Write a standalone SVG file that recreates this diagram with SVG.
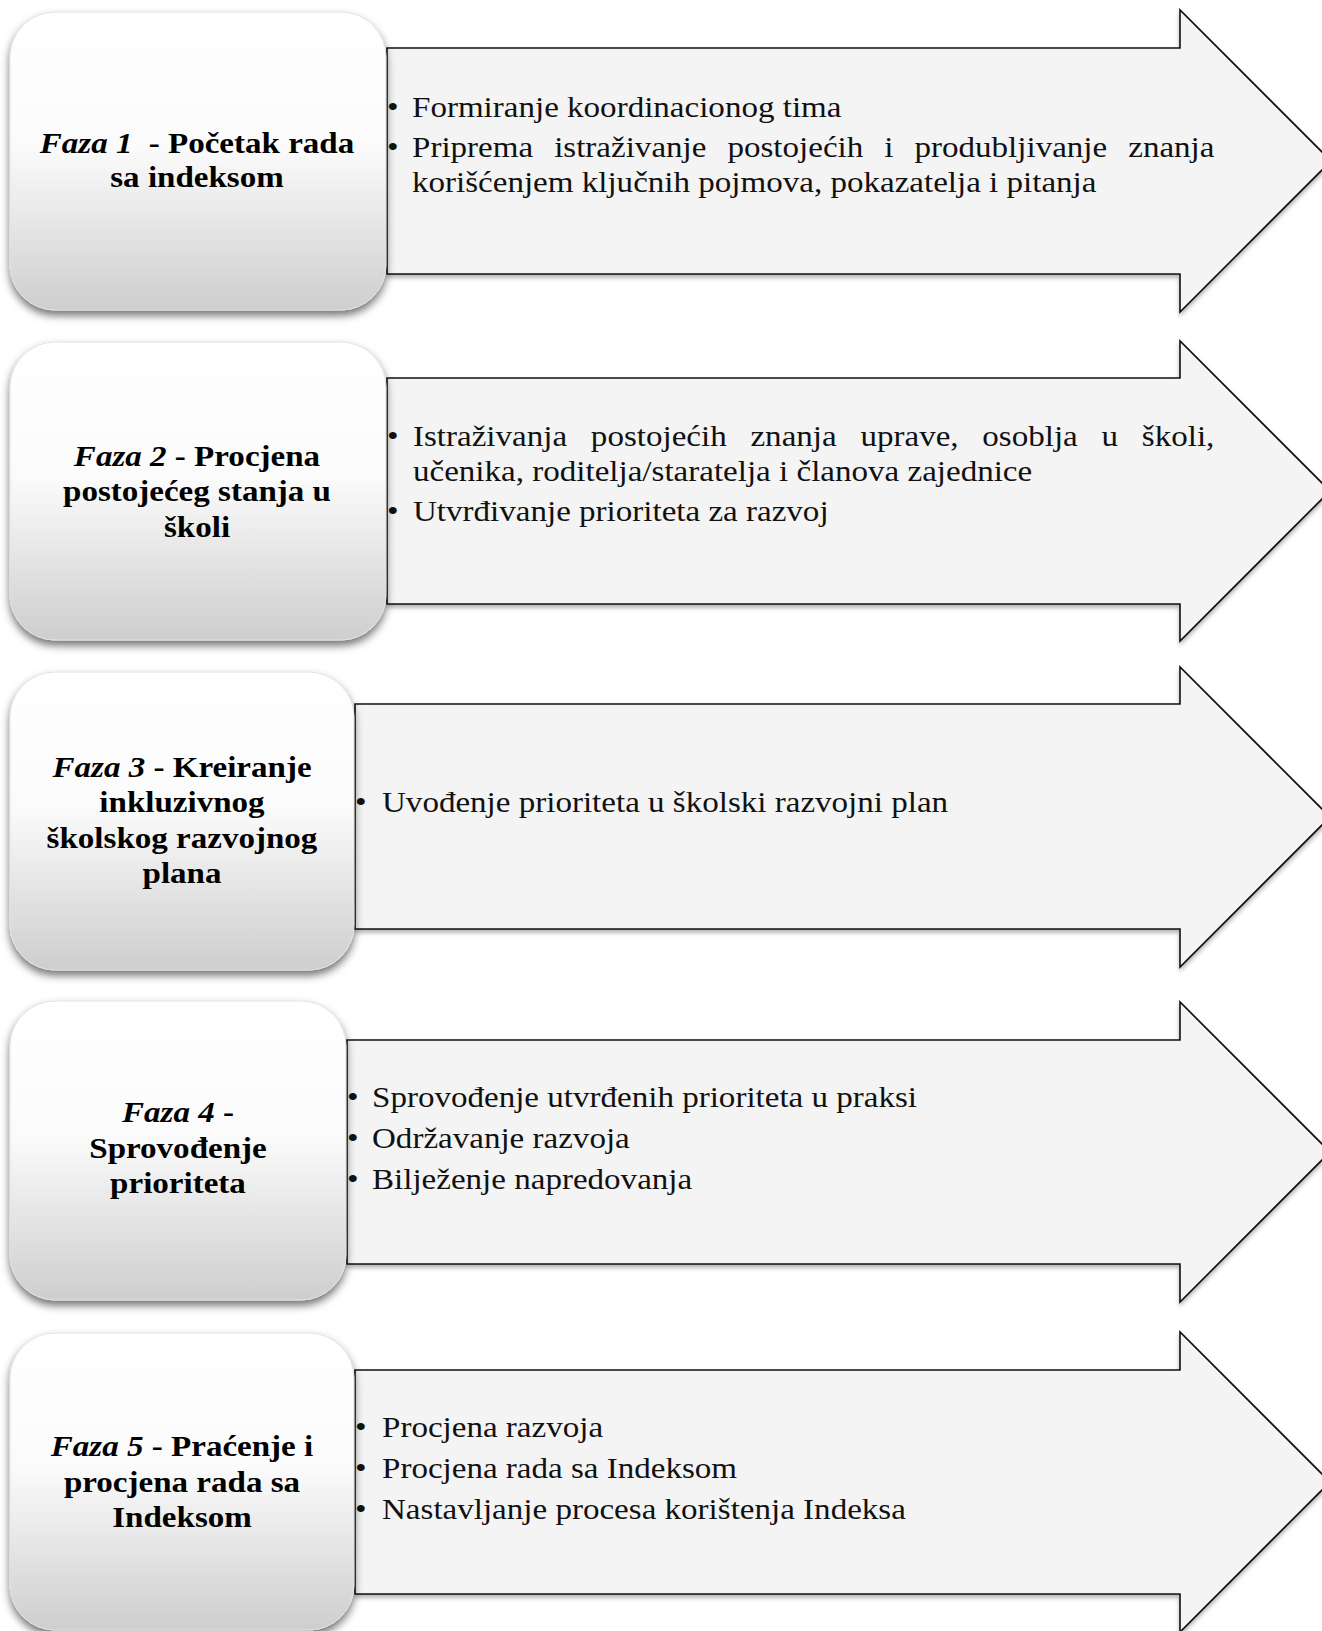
<svg xmlns="http://www.w3.org/2000/svg" width="1322" height="1631" viewBox="0 0 1322 1631">
<defs>
<linearGradient id="boxGrad" x1="0" y1="0" x2="0" y2="1">
<stop offset="0" stop-color="#ffffff"/>
<stop offset="0.45" stop-color="#fbfbfb"/>
<stop offset="1" stop-color="#cecece"/>
</linearGradient>
<filter id="boxShadow" x="-10%" y="-10%" width="120%" height="125%">
<feGaussianBlur in="SourceAlpha" stdDeviation="4"/>
<feOffset dx="0" dy="5" result="b"/>
<feFlood flood-color="#000" flood-opacity="0.55"/>
<feComposite in2="b" operator="in"/>
<feMerge><feMergeNode/><feMergeNode in="SourceGraphic"/></feMerge>
</filter>
<filter id="arrowShadow" x="-5%" y="-10%" width="110%" height="125%">
<feGaussianBlur in="SourceAlpha" stdDeviation="2"/>
<feOffset dx="0" dy="3" result="b"/>
<feFlood flood-color="#000" flood-opacity="0.3"/>
<feComposite in2="b" operator="in"/>
<feMerge><feMergeNode/><feMergeNode in="SourceGraphic"/></feMerge>
</filter>
</defs>
<style>
.arrow{fill:#f4f4f4;stroke:#111;stroke-width:1.6;stroke-linejoin:miter;filter:url(#arrowShadow)}
.box{fill:url(#boxGrad);stroke:#e2e2e2;stroke-width:1;filter:url(#boxShadow)}
.title{font-family:"Liberation Serif",serif;font-size:29px;font-weight:bold;fill:#000;text-anchor:middle}
.body{font-family:"Liberation Serif",serif;font-size:29px;fill:#111}
.it{font-style:italic}
</style>
<rect width="1322" height="1631" fill="#ffffff"/>

<g id="connectors">
<polygon id="arrow1" class="arrow" points="387,48 1180,48 1180,10 1331,161 1180,312 1180,274 387,274"/>
<polygon id="arrow2" class="arrow" points="387,378 1180,378 1180,341 1330,491 1180,641 1180,604 387,604"/>
<polygon id="arrow3" class="arrow" points="355,704 1180,704 1180,667 1330,817 1180,967 1180,929 355,929"/>
<polygon id="arrow4" class="arrow" points="347,1040 1180,1040 1180,1002 1330,1152 1180,1302 1180,1264 347,1264"/>
<polygon id="arrow5" class="arrow" points="355,1370 1180,1370 1180,1332 1330,1482 1180,1632 1180,1594 355,1594"/>
</g>

<g id="phase1-content">
<text class="body" transform="translate(387,117) scale(1.14,1)">•</text>
<text class="body" transform="translate(412,117) scale(1.14,1)">Formiranje koordinacionog tima</text>
<text class="body" transform="translate(387,157) scale(1.14,1)">•</text>
<text class="body" transform="translate(412,157) scale(1.14,1)" word-spacing="11.2">Priprema istraživanje postojećih i produbljivanje znanja</text>
<text class="body" transform="translate(412,192) scale(1.14,1)">korišćenjem ključnih pojmova, pokazatelja i pitanja</text>
</g>
<g id="phase1">
<rect class="box" x="10" y="12" width="376" height="298" rx="45"/>
<text class="title" transform="translate(197,153) scale(1.14,1)"><tspan class="it">Faza 1</tspan><tspan dx="7"> - Početak rada</tspan><tspan x="0" dy="34">sa indeksom</tspan></text>
</g>

<g id="phase2-content">
<text class="body" transform="translate(387,446) scale(1.14,1)">•</text>
<text class="body" transform="translate(413,446) scale(1.14,1)" word-spacing="13.6">Istraživanja postojećih znanja uprave, osoblja u školi,</text>
<text class="body" transform="translate(413,481) scale(1.14,1)">učenika, roditelja/staratelja i članova zajednice</text>
<text class="body" transform="translate(387,521) scale(1.14,1)">•</text>
<text class="body" transform="translate(413,521) scale(1.14,1)">Utvrđivanje prioriteta za razvoj</text>
</g>
<g id="phase2">
<rect class="box" x="10" y="342" width="376" height="298" rx="45"/>
<text class="title" transform="translate(197,466) scale(1.14,1)"><tspan class="it">Faza 2</tspan> - Procjena<tspan x="0" dy="35">postojećeg stanja u</tspan><tspan x="0" dy="36">školi</tspan></text>
</g>

<g id="phase3-content">
<text class="body" transform="translate(355,812) scale(1.14,1)">•</text>
<text class="body" transform="translate(382,812) scale(1.14,1)">Uvođenje prioriteta u školski razvojni plan</text>
</g>
<g id="phase3">
<rect class="box" x="10" y="672" width="344" height="298" rx="45"/>
<text class="title" transform="translate(182,777) scale(1.14,1)"><tspan class="it">Faza 3</tspan> - Kreiranje<tspan x="0" dy="35">inkluzivnog</tspan><tspan x="0" dy="36">školskog razvojnog</tspan><tspan x="0" dy="35">plana</tspan></text>
</g>

<g id="phase4-content">
<text class="body" transform="translate(347,1107) scale(1.14,1)">•</text>
<text class="body" transform="translate(372,1107) scale(1.14,1)">Sprovođenje utvrđenih prioriteta u praksi</text>
<text class="body" transform="translate(347,1148) scale(1.14,1)">•</text>
<text class="body" transform="translate(372,1148) scale(1.14,1)">Održavanje razvoja</text>
<text class="body" transform="translate(347,1189) scale(1.14,1)">•</text>
<text class="body" transform="translate(372,1189) scale(1.14,1)">Bilježenje napredovanja</text>
</g>
<g id="phase4">
<rect class="box" x="10" y="1001" width="336" height="299" rx="45"/>
<text class="title" transform="translate(178,1122) scale(1.14,1)"><tspan class="it">Faza 4</tspan> -<tspan x="0" dy="36">Sprovođenje</tspan><tspan x="0" dy="35">prioriteta</tspan></text>
</g>

<g id="phase5-content">
<text class="body" transform="translate(355,1437) scale(1.14,1)">•</text>
<text class="body" transform="translate(382,1437) scale(1.14,1)">Procjena razvoja</text>
<text class="body" transform="translate(355,1478) scale(1.14,1)">•</text>
<text class="body" transform="translate(382,1478) scale(1.14,1)">Procjena rada sa Indeksom</text>
<text class="body" transform="translate(355,1519) scale(1.14,1)">•</text>
<text class="body" transform="translate(382,1519) scale(1.14,1)">Nastavljanje procesa korištenja Indeksa</text>
</g>
<g id="phase5">
<rect class="box" x="10" y="1333" width="344" height="297" rx="45"/>
<text class="title" transform="translate(182,1456) scale(1.14,1)"><tspan class="it">Faza 5</tspan> - Praćenje i<tspan x="0" dy="36">procjena rada sa</tspan><tspan x="0" dy="35">Indeksom</tspan></text>
</g>
</svg>
